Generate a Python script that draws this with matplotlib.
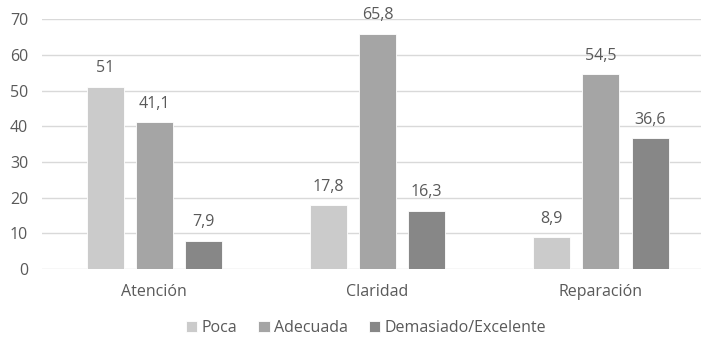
import numpy as np
import matplotlib.pyplot as plt

plt.rcParams['font.family'] = ['Open Sans', 'DejaVu Sans']

categories = ["Atención", "Claridad", "Reparación"]
series = ["Poca", "Adecuada", "Demasiado/Excelente"]
poca = [51, 17.8, 8.9]
adecuada = [41.1, 65.8, 54.5]
demasiado = [7.9, 16.3, 36.6]
colors = ["#cbcbcb", "#a5a5a5", "#878787"]
text_color = "#595959"

fig = plt.figure(figsize=(7.01, 3.41), dpi=100)
ax = fig.add_axes([0.06, 0.211, 0.94, 0.733])

x = np.arange(len(categories))
width = 0.166
step = 0.22

for i, (vals, name) in enumerate(zip([poca, adecuada, demasiado], series)):
    pos = x + (i - 1) * step
    ax.bar(pos, vals, width, color=colors[i], label=name, zorder=3,
           edgecolor="white", linewidth=0.6)
    for p, v in zip(pos, vals):
        lbl = ("%g" % v).replace(".", ",")
        ax.text(p, v + 3.0, lbl, ha="center", va="bottom", fontsize=11.5,
                color=text_color)

ax.set_ylim(0, 70)
ax.set_xlim(-0.502, 2.448)
ax.set_yticks(range(0, 71, 10))
ax.yaxis.grid(True, color="#d9d9d9", linewidth=1, zorder=0)
for s in ax.spines.values():
    s.set_visible(False)
ax.tick_params(axis="both", length=0, labelsize=11.5, colors=text_color)
ax.tick_params(axis="y", pad=10)
ax.tick_params(axis="x", pad=11)
ax.set_xticks(x)
ax.set_xticklabels(categories)

ax.legend(loc="center", bbox_to_anchor=(0.492, -0.236), ncol=3,
          frameon=False, fontsize=11.5, handlelength=0.7, handleheight=0.7,
          handletextpad=0.3, columnspacing=1.3, labelcolor=text_color)

fig.savefig("out.png", dpi=100)
